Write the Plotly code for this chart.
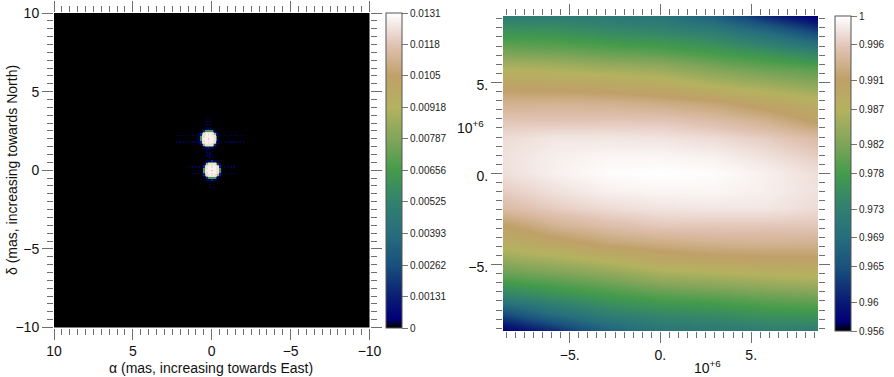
import plotly.graph_objects as go

W, H = 894, 377
FONT = "Liberation Sans"
TICK_COLOR = "#6e6e6e"

# colour map
colour_stops = [
    [0.0, "rgb(0,0,0)"], [0.03, "rgb(0,0,122)"], [0.1, "rgb(10,30,115)"],
    [0.2, "rgb(25,80,125)"], [0.3, "rgb(38,110,125)"], [0.4, "rgb(50,130,110)"],
    [0.5, "rgb(68,155,75)"], [0.6, "rgb(130,165,90)"], [0.7, "rgb(180,178,95)"],
    [0.8, "rgb(192,160,105)"], [0.9, "rgb(225,195,180)"], [0.95, "rgb(240,225,220)"],
    [1.0, "rgb(255,255,255)"],
]

# left panel: image values around the two spots, one digit = one brightness level
flux_levels = [0, 0.0003, 0.0015, 0.0046, 0.0066, 0.0092, 0.0105, 0.0118, 0.0124, 0.0128]
image_x = [2.2 - 0.1 * i for i in range(43)]
image_y = [3.4 - 0.1 * i for i in range(47)]
image_rows = [
    "",
    "0000000000000000000101",
    "",
    "0000000000000000000101",
    "",
    "0000000000000000000101",
    "",
    "0000000000000000000101",
    "0000000000000000011121110000",
    "0000000000000000124444421000",
    "0000000000000001258888852100",
    "0000000000000012588989885210",
    "1010101010101012889989988210101010101010101",
    "0000000000000014889999988410",
    "0000000000000014899979998410",
    "0000000000000014889999988410",
    "1010101010101012889989988210101010101010101",
    "0000000000000012588989885210",
    "0000000000000001258888852100",
    "0000000000000000124444421000",
    "0000000000000000011121110000",
    "0000000000000000000101",
    "",
    "0000000000000000000101",
    "000000000000000000000101",
    "0000000000000000000101",
    "000000000000000000000101",
    "",
    "000000000000000000011121110000",
    "000000000000000000124444421000",
    "000000000000000001258888852100",
    "000000000000000012588989885210",
    "000000001010101012889989988210" + "1010101",
    "000000000000000014889999988410",
    "000000000000000014899979998410",
    "000000000000000014889999988410",
    "000000001010101012889989988210" + "1010101",
    "000000000000000012588989885210",
    "000000000000000001258888852100",
    "000000000000000000124444421000",
    "000000000000000000011121110000",
    "000000000000000000000101",
    "",
    "000000000000000000000101",
    "",
    "000000000000000000000101",
    "",
]
image_z = [[flux_levels[int(c)] for c in r.ljust(43, "0")[:43]] for r in image_rows]
image_cbar_vals = [0, 0.00131, 0.00262, 0.00393, 0.00525, 0.00656, 0.00787, 0.00918, 0.0105, 0.0118, 0.0131]
image_cbar_text = ["0", "0.00131", "0.00262", "0.00393", "0.00525", "0.00656", "0.00787", "0.00918", "0.0105", "0.0118", "0.0131"]

# right panel: visibility amplitude read at coarse positions (in units of 10^6)
vis_x = [-8.65, -5.8, -2.95, 0.0, 2.95, 5.8, 8.65]
vis_y = [8.65 - 0.961 * i for i in range(19)]
vis_z = [
    [0.9723, 0.9723, 0.9714, 0.9705, 0.9670, 0.9613, 0.9569],
    [0.9771, 0.9767, 0.9754, 0.9747, 0.9731, 0.9696, 0.9648],
    [0.9815, 0.9809, 0.9800, 0.9792, 0.9776, 0.9756, 0.9732],
    [0.9864, 0.9859, 0.9850, 0.9843, 0.9822, 0.9806, 0.9793],
    [0.9905, 0.9903, 0.9899, 0.9890, 0.9868, 0.9852, 0.9837],
    [0.9934, 0.9936, 0.9934, 0.9928, 0.9919, 0.9899, 0.9881],
    [0.9958, 0.9958, 0.9959, 0.9959, 0.9949, 0.9935, 0.9908],
    [0.9974, 0.9982, 0.9982, 0.9980, 0.9974, 0.9963, 0.9947],
    [0.9978, 0.9988, 0.9993, 0.9993, 0.9989, 0.9978, 0.9963],
    [0.9976, 0.9989, 0.9998, 1.0000, 0.9998, 0.9989, 0.9976],
    [0.9963, 0.9978, 0.9989, 0.9993, 0.9993, 0.9988, 0.9978],
    [0.9947, 0.9963, 0.9974, 0.9980, 0.9982, 0.9982, 0.9974],
    [0.9908, 0.9935, 0.9949, 0.9959, 0.9959, 0.9958, 0.9958],
    [0.9881, 0.9899, 0.9919, 0.9928, 0.9934, 0.9936, 0.9934],
    [0.9837, 0.9852, 0.9868, 0.9890, 0.9899, 0.9903, 0.9905],
    [0.9793, 0.9806, 0.9822, 0.9843, 0.9850, 0.9859, 0.9864],
    [0.9732, 0.9756, 0.9776, 0.9792, 0.9800, 0.9809, 0.9815],
    [0.9648, 0.9696, 0.9731, 0.9747, 0.9754, 0.9767, 0.9771],
    [0.9569, 0.9613, 0.9670, 0.9705, 0.9714, 0.9723, 0.9723],
]
vis_cbar_vals = [0.956, 0.96, 0.965, 0.969, 0.973, 0.978, 0.982, 0.987, 0.991, 0.996, 1]
vis_cbar_text = ["0.956", "0.96", "0.965", "0.969", "0.973", "0.978", "0.982", "0.987", "0.991", "0.996", "1"]

left_ticks = [10, 5, 0, -5, -10]
left_tick_text = ["10", "5", "0", "\u22125", "\u221210"]
right_ticks = [-5, 0, 5]
right_tick_text = ["\u22125.", "0.", "5."]


def px_x(a):
    return a / W


def px_y(a):
    return 1 - a / H


def cbar(x0, y0, y1, vals, text):
    return dict(
        x=px_x(x0), xanchor="left", xref="paper", y=px_y(y0), yanchor="top", yref="paper",
        thickness=16, thicknessmode="pixels", len=y1 - y0, lenmode="pixels",
        xpad=0, ypad=0, outlinecolor="#555555", outlinewidth=1,
        tickmode="array", tickvals=vals, ticktext=text, ticks="outside", ticklen=6,
        tickcolor="#777777", tickfont=dict(family=FONT, size=10, color="#222222"),
    )


fig = go.Figure()
fig.add_trace(go.Heatmap(
    x=image_x, y=image_y, z=image_z, zmin=0, zmax=0.0131, colorscale=colour_stops,
    xaxis="x", yaxis="y", hoverinfo="skip",
    colorbar=cbar(386, 13, 328, image_cbar_vals, image_cbar_text),
))
fig.add_trace(go.Heatmap(
    x=vis_x, y=vis_y, z=vis_z, zmin=0.956, zmax=1, colorscale=colour_stops, zsmooth="best",
    xaxis="x2", yaxis="y2", hoverinfo="skip",
    colorbar=cbar(835, 16, 331, vis_cbar_vals, vis_cbar_text),
))


def axis(domain, rng, vals, text, anchor):
    return dict(
        domain=domain, range=rng, anchor=anchor, tickmode="array", tickvals=vals, ticktext=text,
        ticks="outside", ticklen=11, tickwidth=1, tickcolor=TICK_COLOR, mirror="allticks",
        showgrid=False, zeroline=False, showline=False,
        tickfont=dict(family=FONT, size=14, color="#111111"),
        minor=dict(dtick=0.5, ticks="outside", ticklen=6, tickwidth=1, tickcolor=TICK_COLOR, showgrid=False),
    )


fig.update_layout(
    width=W, height=H, margin=dict(l=0, r=0, t=0, b=0, autoexpand=False), autosize=False,
    paper_bgcolor="white", plot_bgcolor="black", showlegend=False,
    font=dict(family=FONT),
    xaxis=axis([px_x(54), px_x(369.5)], [10, -10], left_ticks, left_tick_text, "y"),
    yaxis=axis([px_y(327.5), px_y(13)], [-10, 10], left_ticks, left_tick_text, "x"),
    xaxis2=axis([px_x(503), px_x(818)], [-8.67, 8.68], right_ticks, right_tick_text, "y2"),
    yaxis2=dict(axis([px_y(331), px_y(16)], [-8.65, 8.65], right_ticks, right_tick_text, "x2"), ticklabelshift=3),
    annotations=[
        dict(text="\u03b1 (mas, increasing towards East)", x=px_x(211), y=px_y(368), xref="paper", yref="paper",
             showarrow=False, font=dict(family=FONT, size=14, color="#111111"), xanchor="center", yanchor="middle"),
        dict(text="\u03b4 (mas, increasing towards North)", x=px_x(12), y=px_y(170), xref="paper", yref="paper",
             showarrow=False, textangle=-90, font=dict(family=FONT, size=14, color="#111111"),
             xanchor="center", yanchor="middle"),
        dict(text="10<sup>+6</sup>", x=px_x(707), y=px_y(367), xref="paper", yref="paper",
             showarrow=False, font=dict(family=FONT, size=14, color="#111111"), xanchor="center", yanchor="middle"),
        dict(text="10<sup>+6</sup>", x=px_x(470), y=px_y(127), xref="paper", yref="paper",
             showarrow=False, font=dict(family=FONT, size=14, color="#111111"), xanchor="center", yanchor="middle"),
    ],
)
fig.write_html(
    "out.html",
    config={"displayModeBar": False},
    post_script="document.body.style.margin='0';document.documentElement.style.overflow='hidden';",
)
